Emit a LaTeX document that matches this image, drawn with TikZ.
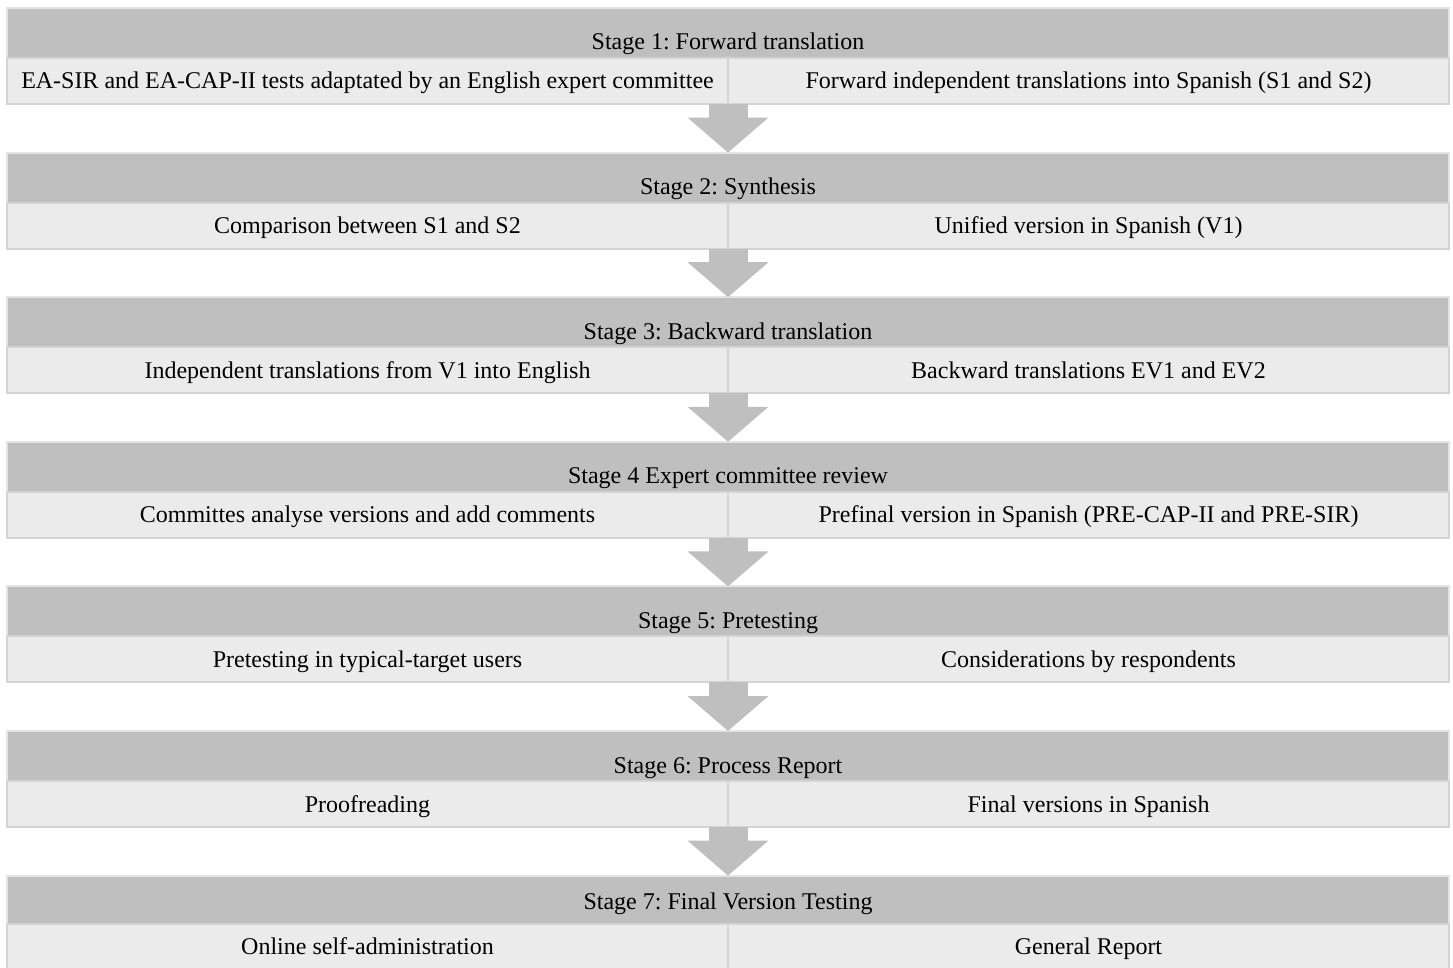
\documentclass[tikz,border=0pt]{standalone}
\usepackage{fontspec}
\setmainfont{Liberation Serif}
\usetikzlibrary{positioning,arrows.meta}
\frenchspacing

\definecolor{headfill}{HTML}{BFBFBF}
\definecolor{headedge}{HTML}{E4E4E4}
\definecolor{cellfill}{HTML}{EBEBEB}
\definecolor{celledge}{HTML}{D4D4D4}

\begin{document}
\begin{tikzpicture}[x=1pt, y=1pt,
    font=\fontsize{24}{28}\selectfont,
    stagehead/.style={draw=headedge, line width=2pt, fill=headfill, inner sep=0pt, outer sep=0pt,
        minimum width=1442pt, text height=42pt, text depth=8pt},
    stagecell/.style={draw=celledge, line width=2pt, fill=cellfill, inner sep=0pt, outer sep=0pt,
        minimum width=721pt, text height=31pt, text depth=15pt},
    flowarrow/.style={draw=headfill, line width=39pt, -{Triangle[width=79pt, length=35pt]}}]

    % Page frame (reference margins)
    \useasboundingbox (0,0) rectangle (1453,-968);

    % Stage 1
    \node[stagehead, anchor=north west] (h1) at (7,-8) {Stage 1: Forward translation};
    \node[stagecell, anchor=north west] (l1) at (h1.south west) {EA-SIR and EA-CAP-II tests adaptated by an English expert committee};
    \node[stagecell, anchor=north east] (r1) at (h1.south east) {Forward independent translations into Spanish (S1 and S2)};

    % Stage 2
    \node[stagehead, below=48.6pt of l1.south east] (h2) {Stage 2: Synthesis};
    \node[stagecell, anchor=north west] (l2) at (h2.south west) {Comparison between S1 and S2};
    \node[stagecell, anchor=north east] (r2) at (h2.south east) {Unified version in Spanish (V1)};

    % Stage 3
    \node[stagehead, below=48.6pt of l2.south east] (h3) {Stage 3: Backward translation};
    \node[stagecell, anchor=north west] (l3) at (h3.south west) {Independent translations from V1 into English};
    \node[stagecell, anchor=north east] (r3) at (h3.south east) {Backward translations EV1 and EV2};

    % Stage 4
    \node[stagehead, below=48.6pt of l3.south east] (h4) {Stage 4 Expert committee review};
    \node[stagecell, anchor=north west] (l4) at (h4.south west) {Committes analyse versions and add comments};
    \node[stagecell, anchor=north east] (r4) at (h4.south east) {Prefinal version in Spanish (PRE-CAP-II and PRE-SIR)};

    % Stage 5
    \node[stagehead, below=48.6pt of l4.south east] (h5) {Stage 5: Pretesting};
    \node[stagecell, anchor=north west] (l5) at (h5.south west) {Pretesting in typical-target users};
    \node[stagecell, anchor=north east] (r5) at (h5.south east) {Considerations by respondents};

    % Stage 6
    \node[stagehead, below=48.6pt of l5.south east] (h6) {Stage 6: Process Report};
    \node[stagecell, anchor=north west] (l6) at (h6.south west) {Proofreading};
    \node[stagecell, anchor=north east] (r6) at (h6.south east) {Final versions in Spanish};

    % Stage 7 (header text sits more centred)
    \node[stagehead, text height=34pt, text depth=14pt, below=48.6pt of l6.south east] (h7) {Stage 7: Final Version Testing};
    \node[stagecell, anchor=north west] (l7) at (h7.south west) {Online self-administration};
    \node[stagecell, anchor=north east] (r7) at (h7.south east) {General Report};

    % Block arrows between stages
    \foreach \i [evaluate=\i as \j using int(\i+1)] in {1,...,6}
        \draw[flowarrow] (l\i.south east) -- (h\j.north);
\end{tikzpicture}
\end{document}
